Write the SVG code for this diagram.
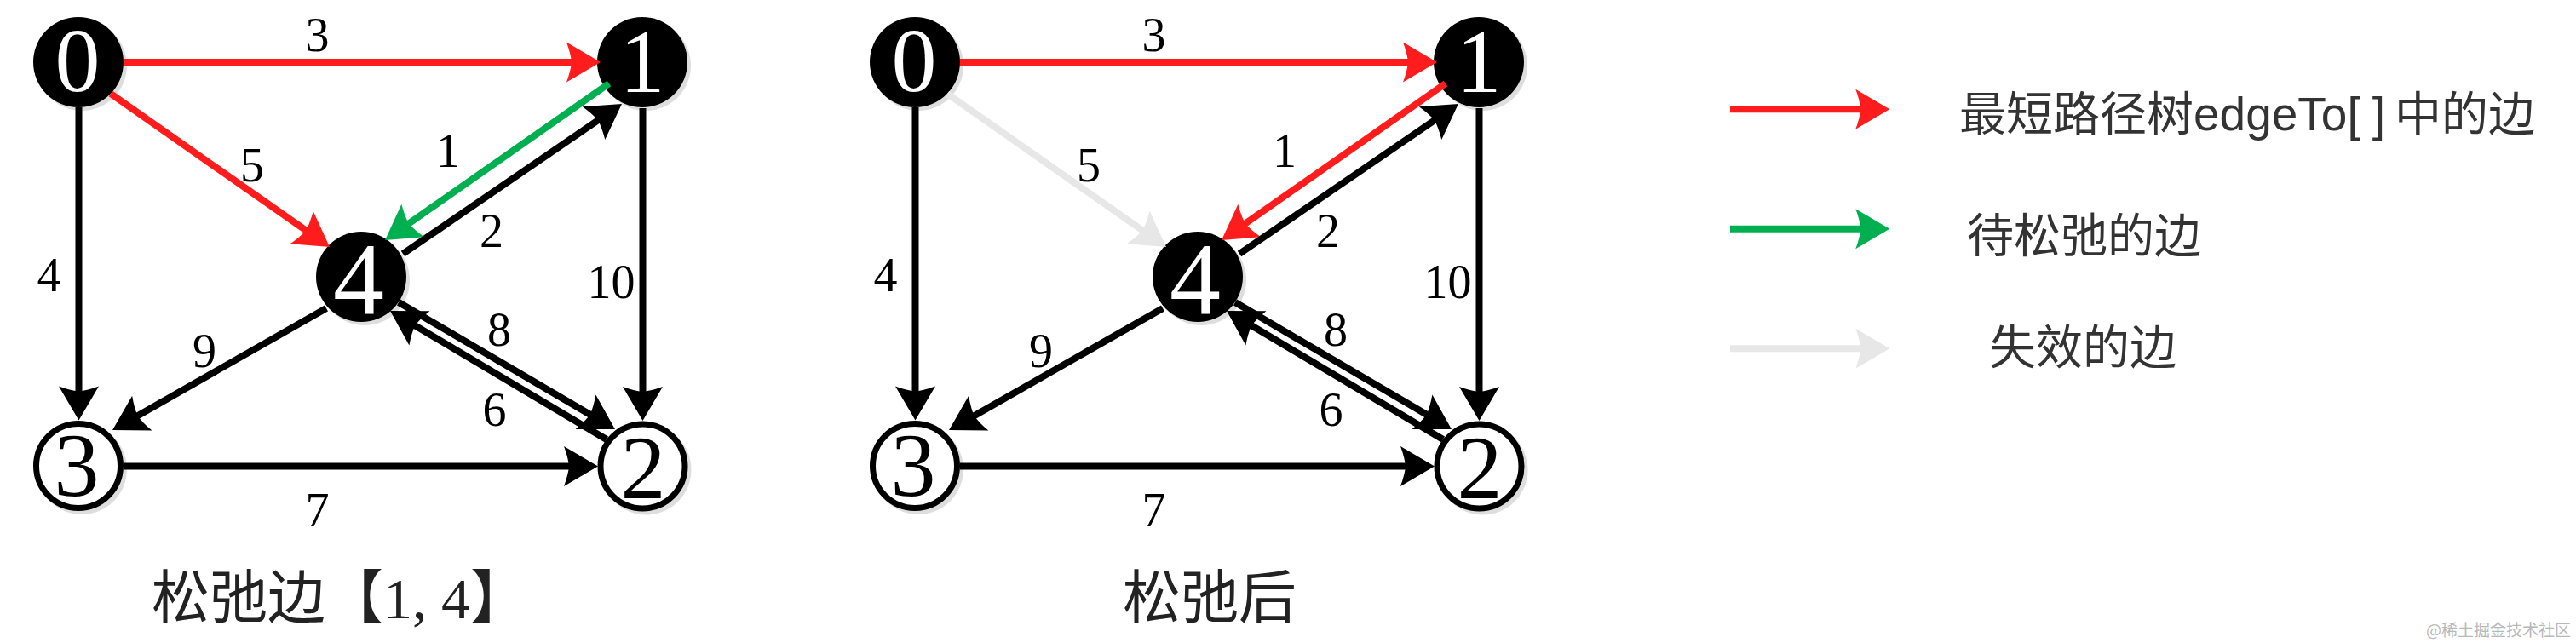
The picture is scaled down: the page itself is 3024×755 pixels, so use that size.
<svg xmlns="http://www.w3.org/2000/svg" width="3024" height="755" viewBox="0 0 3024 755">
<style>
.bg{fill:#ffffff}
.sh{fill:#dedede}
.nb{fill:#000000}
.nw{fill:#ffffff;stroke:#000000;stroke-width:7}
.lb{font-family:'Liberation Serif','Times New Roman',serif;text-anchor:middle}
.lbw{fill:#ffffff}
.lbk{fill:#000000}
.el{font-family:'Liberation Serif','Times New Roman',serif;font-size:56px;text-anchor:middle;fill:#000000}
.e{fill:none;stroke-width:8;stroke-linecap:butt}
.k{stroke:#000000;marker-end:url(#mk)}
.r{stroke:#ff1c1c;marker-end:url(#mr)}
.g{stroke:#00b050;marker-end:url(#mg)}
.y{stroke:#e7e7e7;marker-end:url(#my)}
.lg{font-family:'Liberation Sans',Arial,'Noto Sans CJK SC',sans-serif;font-size:55px;fill:#333333}
.cap{font-family:'Liberation Serif','Times New Roman','Noto Sans CJK SC',serif;font-size:68px;fill:#222222}
.wm{font-family:'Noto Sans CJK SC',sans-serif;font-size:19px;fill:#b8b8b8;text-anchor:end}
</style>
<defs>
<path id="ah" d="M30,0 L-10,-23.5 Q-5,-10 -4,0 Q-5,10 -10,23.5 Z"/>
<marker id="mk" viewBox="-12 -25 44 50" refX="0" refY="0" markerWidth="44" markerHeight="50" markerUnits="userSpaceOnUse" orient="auto"><use href="#ah" fill="#000000"/></marker>
<marker id="mr" viewBox="-12 -25 44 50" refX="0" refY="0" markerWidth="44" markerHeight="50" markerUnits="userSpaceOnUse" orient="auto"><use href="#ah" fill="#ff1c1c"/></marker>
<marker id="mg" viewBox="-12 -25 44 50" refX="0" refY="0" markerWidth="44" markerHeight="50" markerUnits="userSpaceOnUse" orient="auto"><use href="#ah" fill="#00b050"/></marker>
<marker id="my" viewBox="-12 -25 44 50" refX="0" refY="0" markerWidth="44" markerHeight="50" markerUnits="userSpaceOnUse" orient="auto"><use href="#ah" fill="#e7e7e7"/></marker>
</defs>
<rect class="bg" x="0" y="0" width="3024" height="755"/>

<!-- Left graph: relaxing edge 1->4 -->
<g id="graph-left">
  <g id="L-node0"><circle class="sh" cx="96" cy="77" r="53"/><circle class="nb" cx="92" cy="73" r="53"/><text class="lb lbw" x="91" y="107" font-size="106">0</text></g>
  <g id="L-node1"><circle class="sh" cx="758" cy="77" r="53"/><circle class="nb" cx="754" cy="73" r="53"/><text class="lb lbw" x="754" y="108" font-size="106">1</text></g>
  <g id="L-node4"><circle class="sh" cx="428" cy="329" r="53"/><circle class="nb" cx="424" cy="325" r="53"/><text class="lb lbw" x="421" y="368" font-size="120">4</text></g>
  <g id="L-node3"><circle class="sh" cx="96" cy="551" r="53"/><circle class="nw" cx="92" cy="547" r="49.5"/><text class="lb lbk" x="90" y="582" font-size="106">3</text></g>
  <g id="L-node2"><circle class="sh" cx="758.5" cy="551.5" r="53"/><circle class="nw" cx="754.5" cy="547.5" r="49.5"/><text class="lb lbk" x="755" y="585" font-size="106">2</text></g>
  <g id="L-connectors">
    <path class="e r" d="M145,73 L675,73"/>
    <path class="e k" d="M92.5,126 L92.5,463.5"/>
    <path class="e r" d="M130,110 L362.4,272.8"/>
    <path class="e g" d="M715,98 L476.6,264.8"/>
    <path class="e k" d="M473,298 L705.25,138.95"/>
    <path class="e k" d="M754.5,127 L754.5,464"/>
    <path class="e k" d="M383,362 L158.1,490.15"/>
    <path class="e k" d="M145,547.5 L672,547.5"/>
    <path class="e k" d="M468,355 L696.1,488.8"/>
    <path class="e k" d="M712,516 L483.8,380.3"/>
  </g>
  <g id="L-edge-labels">
    <text class="el" x="372.5" y="60">3</text>
    <text class="el" x="296" y="213">5</text>
    <text class="el" x="57.5" y="342">4</text>
    <text class="el" x="526" y="196">1</text>
    <text class="el" x="577" y="290">2</text>
    <text class="el" x="717.5" y="350">10</text>
    <text class="el" x="240" y="431">9</text>
    <text class="el" x="586" y="406">8</text>
    <text class="el" x="580.5" y="500">6</text>
    <text class="el" x="372.5" y="618">7</text>
  </g>
</g>

<!-- Right graph: after relaxation -->
<g id="graph-right" transform="translate(982,0)">
  <g id="R-node0"><circle class="sh" cx="96" cy="77" r="53"/><circle class="nb" cx="92" cy="73" r="53"/><text class="lb lbw" x="91" y="107" font-size="106">0</text></g>
  <g id="R-node1"><circle class="sh" cx="758" cy="77" r="53"/><circle class="nb" cx="754" cy="73" r="53"/><text class="lb lbw" x="754" y="108" font-size="106">1</text></g>
  <g id="R-node4"><circle class="sh" cx="428" cy="329" r="53"/><circle class="nb" cx="424" cy="325" r="53"/><text class="lb lbw" x="421" y="368" font-size="120">4</text></g>
  <g id="R-node3"><circle class="sh" cx="96" cy="551" r="53"/><circle class="nw" cx="92" cy="547" r="49.5"/><text class="lb lbk" x="90" y="582" font-size="106">3</text></g>
  <g id="R-node2"><circle class="sh" cx="758.5" cy="551.5" r="53"/><circle class="nw" cx="754.5" cy="547.5" r="49.5"/><text class="lb lbk" x="755" y="585" font-size="106">2</text></g>
  <g id="R-connectors">
    <path class="e r" d="M145,73 L675,73"/>
    <path class="e k" d="M92.5,126 L92.5,463.5"/>
    <path class="e y" d="M130,110 L362.4,272.8"/>
    <path class="e r" d="M715,98 L476.6,264.8"/>
    <path class="e k" d="M473,298 L705.25,138.95"/>
    <path class="e k" d="M754.5,127 L754.5,464"/>
    <path class="e k" d="M383,362 L158.1,490.15"/>
    <path class="e k" d="M145,547.5 L672,547.5"/>
    <path class="e k" d="M468,355 L696.1,488.8"/>
    <path class="e k" d="M712,516 L483.8,380.3"/>
  </g>
  <g id="R-edge-labels">
    <text class="el" x="372.5" y="60">3</text>
    <text class="el" x="296" y="213">5</text>
    <text class="el" x="57.5" y="342">4</text>
    <text class="el" x="526" y="196">1</text>
    <text class="el" x="577" y="290">2</text>
    <text class="el" x="717.5" y="350">10</text>
    <text class="el" x="240" y="431">9</text>
    <text class="el" x="586" y="406">8</text>
    <text class="el" x="580.5" y="500">6</text>
    <text class="el" x="372.5" y="618">7</text>
  </g>
</g>

<!-- Legend -->
<g id="legend">
  <g id="legend-connectors">
    <path class="e r" d="M2031,128.3 L2188.3,128.3"/>
    <path class="e g" d="M2031,268.7 L2188.3,268.7"/>
    <path class="e y" d="M2031,409.3 L2188.3,409.3"/>
  </g>
  <text class="lg" x="2300" y="153">最短路径树edgeTo[<tspan dx="14">]</tspan><tspan dx="11">中的边</tspan></text>
  <text class="lg" x="2309" y="296">待松弛的边</text>
  <text class="lg" x="2335" y="427">失效的边</text>
</g>

<!-- Captions -->
<text id="caption-left" class="cap" x="178" y="726">松弛边【1,<tspan dx="17">4</tspan>】</text>
<text id="caption-right" class="cap" x="1318" y="726">松弛后</text>
<text id="watermark" class="wm" x="3018" y="747">@稀土掘金技术社区</text>
</svg>
